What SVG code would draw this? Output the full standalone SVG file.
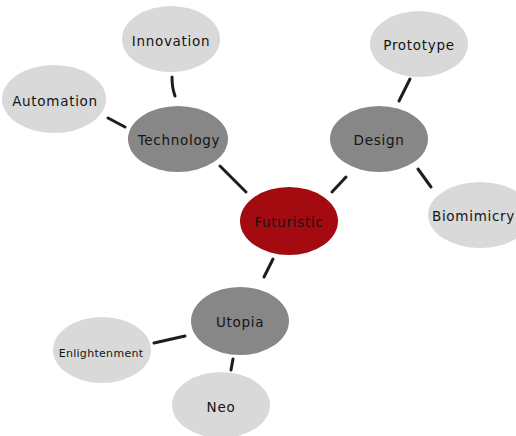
<svg xmlns="http://www.w3.org/2000/svg" width="516" height="436" viewBox="0 0 516 436">
  <style>
    .leaf { fill: #d9d9d9; }
    .branch { fill: #878787; }
    .core { fill: #a30b10; }
    .lbl { font-family: "DejaVu Sans", "Liberation Sans", sans-serif; font-size: 13.5px; fill: #141414; text-anchor: middle; dominant-baseline: central; letter-spacing: 0.7px; }
    .small { font-size: 11px; letter-spacing: 0.3px; }
    .link { stroke: #1e1e1e; stroke-width: 3; stroke-linecap: round; fill: none; }
  </style>
  <rect width="516" height="436" fill="#ffffff"/>

  <!-- connectors -->
  <g id="connectors">
    <path class="link" d="M172 77 Q172 88 175 96"/>
    <path class="link" d="M108 118 L125 127"/>
    <path class="link" d="M220 166 L246 192"/>
    <path class="link" d="M410 79 L399 101"/>
    <path class="link" d="M418 169 L431 187"/>
    <path class="link" d="M346 177 L332 192"/>
    <path class="link" d="M273 259 L264 277"/>
    <path class="link" d="M154 343 L185 336"/>
    <path class="link" d="M233 359 L231 370"/>
  </g>

  <g id="innovation">
    <ellipse class="leaf" cx="171" cy="39" rx="49" ry="33"/>
    <text class="lbl" x="171" y="41">Innovation</text>
  </g>
  <g id="automation">
    <ellipse class="leaf" cx="54" cy="99" rx="52" ry="34"/>
    <text class="lbl" x="55" y="101">Automation</text>
  </g>
  <g id="technology">
    <ellipse class="branch" cx="178" cy="139" rx="50" ry="33"/>
    <text class="lbl" x="179" y="140">Technology</text>
  </g>
  <g id="prototype">
    <ellipse class="leaf" cx="419" cy="44" rx="49" ry="33"/>
    <text class="lbl" x="419" y="45">Prototype</text>
  </g>
  <g id="design">
    <ellipse class="branch" cx="379" cy="139" rx="49" ry="33"/>
    <text class="lbl" x="379" y="140">Design</text>
  </g>
  <g id="biomimicry">
    <ellipse class="leaf" cx="480" cy="215" rx="52" ry="33"/>
    <text class="lbl" x="515" y="216" style="text-anchor:end">Biomimicry</text>
  </g>
  <g id="futuristic">
    <ellipse class="core" cx="289" cy="221" rx="49" ry="34"/>
    <text class="lbl" x="289" y="222">Futuristic</text>
  </g>
  <g id="utopia">
    <ellipse class="branch" cx="240" cy="321" rx="49" ry="34"/>
    <text class="lbl" x="240" y="322">Utopia</text>
  </g>
  <g id="enlightenment">
    <ellipse class="leaf" cx="102" cy="350" rx="49" ry="33"/>
    <text class="lbl small" x="101" y="353">Enlightenment</text>
  </g>
  <g id="neo">
    <ellipse class="leaf" cx="221" cy="405" rx="49" ry="33"/>
    <text class="lbl" x="221" y="407">Neo</text>
  </g>
</svg>
